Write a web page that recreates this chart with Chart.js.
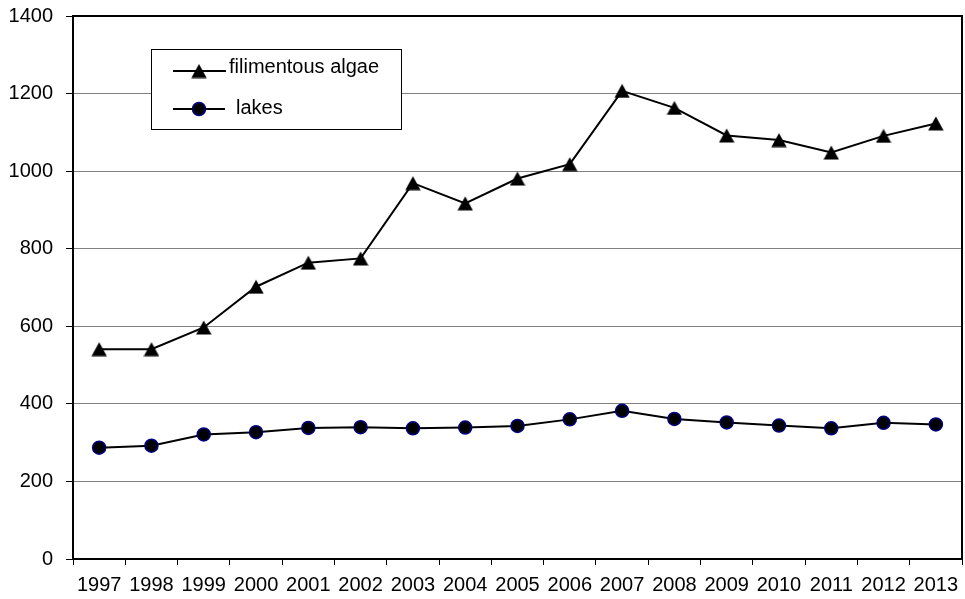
<!DOCTYPE html>
<html>
<head>
<meta charset="utf-8">
<script src="https://cdn.jsdelivr.net/npm/chart.js@4/dist/chart.umd.min.js"></script>
<style>
  html, body { margin: 0; padding: 0; background: #fff; overflow: hidden; }
  #wrap { width: 965px; height: 599px; position: relative; }
  #c { display: block; }
</style>
</head>
<body>
<div id="wrap"><canvas id="c" width="965" height="599"></canvas></div>
<script>
const years = ['1997','1998','1999','2000','2001','2002','2003','2004','2005','2006','2007','2008','2009','2010','2011','2012','2013'];
const filamentousAlgae = [541, 541, 597, 702, 764, 775, 969, 917, 981, 1018, 1207, 1163, 1092, 1080, 1048, 1091, 1123];
const lakes = [287, 292, 321, 327, 338, 340, 337, 339, 343, 360, 382, 361, 352, 344, 337, 351, 347];
const yTicks = [0, 200, 400, 600, 800, 1000, 1200, 1400];

const FONT = "'Liberation Sans', Arial, sans-serif";

// Solid black triangle marker, centred on its bounding box
function makeTriangle() {
  const c = document.createElement('canvas');
  c.width = 16; c.height = 15;
  const g = c.getContext('2d');
  g.fillStyle = '#000';
  g.beginPath();
  g.moveTo(8, 0.5);
  g.lineTo(15.7, 14.5);
  g.lineTo(0.3, 14.5);
  g.closePath();
  g.fill();
  return c;
}
const triangleMarker = makeTriangle();

// Black frame around the plot area
const framePlugin = {
  id: 'frame',
  beforeDatasetsDraw(chart) {
    const { ctx, chartArea: a } = chart;
    ctx.save();
    ctx.strokeStyle = '#000';
    ctx.lineWidth = 2;
    ctx.strokeRect(a.left, a.top, a.right - a.left, a.bottom - a.top);
    ctx.restore();
  }
};

// Boxed legend inside the plot area
const boxLegend = {
  id: 'boxLegend',
  afterDraw(chart) {
    const { ctx } = chart;
    const box = { x: 151, y: 49, w: 250, h: 80 };
    ctx.save();
    ctx.fillStyle = '#fff';
    ctx.fillRect(box.x, box.y, box.w, box.h);
    ctx.strokeStyle = '#000';
    ctx.lineWidth = 1;
    ctx.strokeRect(box.x + 0.5, box.y + 0.5, box.w, box.h);
    const rows = [
      { ds: chart.data.datasets[0], y: 71, ty: 67.5, x1: 173, x2: 226, tx: 229 },
      { ds: chart.data.datasets[1], y: 109, ty: 108, x1: 173, x2: 225, tx: 236 }
    ];
    rows.forEach(r => {
      ctx.strokeStyle = r.ds.borderColor;
      ctx.lineWidth = r.ds.borderWidth;
      ctx.beginPath();
      ctx.moveTo(r.x1, r.y);
      ctx.lineTo(r.x2, r.y);
      ctx.stroke();
      ctx.fillStyle = r.ds.pointBackgroundColor;
      ctx.strokeStyle = r.ds.pointBorderColor;
      ctx.lineWidth = r.ds.pointBorderWidth;
      Chart.helpers.drawPoint(ctx, {
        pointStyle: r.ds.pointStyle,
        radius: r.ds.pointRadius,
        rotation: 0,
        borderWidth: r.ds.pointBorderWidth
      }, 199, r.y);
      ctx.fillStyle = '#000';
      ctx.font = '20px ' + FONT;
      ctx.textBaseline = 'middle';
      ctx.textAlign = 'left';
      ctx.fillText(r.ds.label, r.tx, r.ty);
    });
    ctx.restore();
  }
};

new Chart(document.getElementById('c'), {
  type: 'line',
  data: {
    labels: years,
    datasets: [
      {
        label: 'filimentous algae',
        data: filamentousAlgae,
        borderColor: '#000',
        borderWidth: 2,
        pointStyle: triangleMarker,
        pointRadius: 8,
        pointBackgroundColor: '#000',
        pointBorderColor: '#000',
        pointBorderWidth: 1,
        tension: 0
      },
      {
        label: 'lakes',
        data: lakes,
        borderColor: '#000',
        borderWidth: 2,
        pointStyle: 'circle',
        pointRadius: 6.5,
        pointBackgroundColor: '#000',
        pointBorderColor: '#000080',
        pointBorderWidth: 1.5,
        tension: 0
      }
    ]
  },
  options: {
    responsive: false,
    animation: false,
    layout: { autoPadding: false, padding: { top: 16, right: 3, left: 0, bottom: 0 } },
    plugins: {
      legend: { display: false },
      tooltip: { enabled: false }
    },
    scales: {
      x: {
        type: 'category',
        offset: true,
        grid: {
          offset: true,
          drawOnChartArea: false,
          drawTicks: true,
          tickLength: 6,
          color: '#000',
          lineWidth: 1
        },
        border: { display: true, color: '#000', width: 2 },
        ticks: {
          color: '#000',
          font: { family: FONT, size: 20 },
          padding: 8,
          maxRotation: 0,
          autoSkip: false
        },
        afterFit(scale) {
          scale.height = 40;
          scale.paddingLeft = 0;
          scale.paddingRight = 0;
        }
      },
      y: {
        min: 0,
        max: 1400,
        afterBuildTicks(scale) { scale.ticks = yTicks.map(v => ({ value: v })); },
        grid: {
          color: '#808080',
          lineWidth: 1,
          tickColor: '#000',
          tickLength: 7
        },
        border: { display: true, color: '#000', width: 2 },
        ticks: {
          color: '#000',
          font: { family: FONT, size: 20 },
          padding: 13,
          callback: v => String(v)
        },
        afterFit(scale) {
          scale.width = 73;
          scale.paddingTop = 0;
          scale.paddingBottom = 0;
        }
      }
    }
  },
  plugins: [framePlugin, boxLegend]
});
</script>
</body>
</html>
